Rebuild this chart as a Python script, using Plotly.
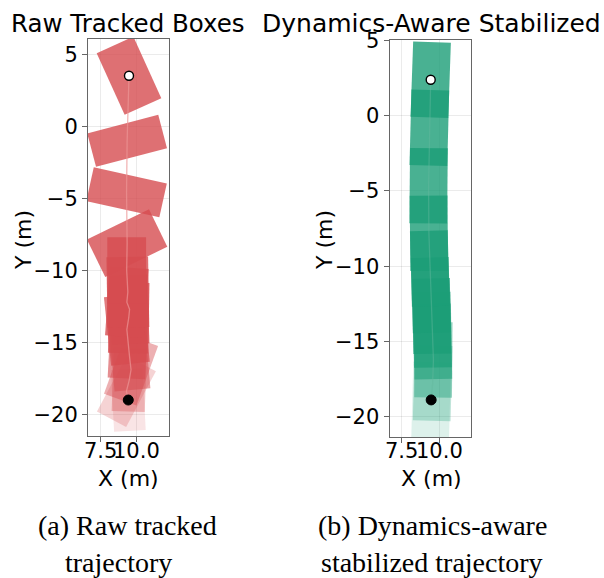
import numpy as np
import plotly.graph_objects as go

W_PX, H_PX = 604, 578

# ---- raw tracked boxes (first frame -> last frame) ----
raw_cx = [9.43, 9.30, 9.50, 9.62, 9.52, 9.42, 9.33, 9.46, 9.52, 9.33, 9.40, 9.32, 9.35, 9.31, 9.35, 9.48]
raw_cy = [-19.0, -18.4, -17.6, -16.9, -16.0, -15.1, -14.1, -13.3, -12.7, -12.2, -11.5, -10.0, -8.1, -4.57, -0.99, 3.53]
raw_heading = [93, 62, 88, 70, 95, 87, 96, 89, 92, 86, 91, 90, 26, -12.5, 14.7, 114.4]  # deg from +x
raw_length = [4.3, 4.4, 4.4, 4.4, 4.6, 4.8, 4.8, 4.9, 4.8, 4.8, 4.9, 4.6, 4.8, 5.2, 5.1, 4.7]
raw_width = [2.2, 2.3, 2.3, 2.4, 2.5, 2.6, 2.7, 2.8, 2.6, 2.7, 2.9, 2.7, 2.9, 2.4, 2.4, 2.8]

# ---- dynamics-aware stabilized boxes (first frame -> last frame) ----
stab_cx = [9.45, 9.55, 9.60, 9.55, 9.52, 9.48, 9.42, 9.36, 9.30, 9.28, 9.33, 9.42]
stab_cy = [-18.87, -17.76, -16.21, -14.99, -14.22, -13.31, -11.92, -10.15, -7.81, -4.66, -0.81, 2.37]
stab_heading = [88.5, 88.5, 89.5, 91.0, 91.0, 91.0, 91.5, 91.5, 90.5, 89.5, 88.5, 88.0]
stab_length = [5.0] * 12
stab_width = [2.5] * 12

x_ticks = [7.5, 10.0]
x_tick_text = ["7.5", "10.0"]
y_ticks = [-20, -15, -10, -5, 0, 5]
y_tick_text = ["\u221220", "\u221215", "\u221210", "\u22125", "0", "5"]

RED = (214, 76, 80)
GREEN = (27, 158, 119)
TICK_SIZE = 21


def px_x(p):
    return p / W_PX


def px_y(p):
    return 1 - p / H_PX


def box_corners(cx, cy, hdg, length, width):
    t = np.deg2rad(hdg)
    u = np.array([np.cos(t), np.sin(t)]) * length / 2
    v = np.array([-np.sin(t), np.cos(t)]) * width / 2
    c = np.array([cx, cy])
    pts = [c + u + v, c + u - v, c - u - v, c - u + v, c + u + v]
    return [p[0] for p in pts], [p[1] for p in pts]


def fade(n):
    # older frames are drawn more transparent
    i = np.arange(n)
    return 0.15 + 0.65 * np.minimum(1.0, i / (0.45 * (n - 1)))


fig = go.Figure()


def add_track(cx, cy, hdg, lens, wids, rgb, line_rgba, xa, ya):
    n = len(cx)
    alphas = fade(n)
    for i in range(n):
        xs, ys = box_corners(cx[i], cy[i], hdg[i], lens[i], wids[i])
        fig.add_trace(go.Scatter(
            x=xs, y=ys, mode="lines", fill="toself",
            fillcolor=f"rgba({rgb[0]},{rgb[1]},{rgb[2]},{alphas[i]:.3f})",
            line=dict(width=0), hoverinfo="skip", showlegend=False,
            xaxis=xa, yaxis=ya))
    fig.add_trace(go.Scatter(
        x=cx, y=cy, mode="lines", line=dict(color=line_rgba, width=1.3),
        showlegend=False, xaxis=xa, yaxis=ya))
    fig.add_trace(go.Scatter(
        x=[cx[0]], y=[cy[0]], mode="markers",
        marker=dict(size=10, color="black", line=dict(color="black", width=1)),
        showlegend=False, xaxis=xa, yaxis=ya))
    fig.add_trace(go.Scatter(
        x=[cx[-1]], y=[cy[-1]], mode="markers",
        marker=dict(size=9, color="white", line=dict(color="black", width=1.4)),
        showlegend=False, xaxis=xa, yaxis=ya))


add_track(raw_cx, raw_cy, raw_heading, raw_length, raw_width, RED,
          "rgba(236,150,150,0.7)", "x", "y")
add_track(stab_cx, stab_cy, stab_heading, stab_length, stab_width, GREEN,
          "rgba(100,185,158,0.45)", "x2", "y2")

axis_common = dict(
    showline=True, mirror=True, linecolor="#666", linewidth=1,
    ticks="outside", ticklen=5, tickcolor="#666", tickwidth=1,
    showgrid=True, gridcolor="rgba(0,0,0,0.08)", gridwidth=1,
    zeroline=False, automargin=False,
    tickfont=dict(family="DejaVu Sans", size=TICK_SIZE, color="black"),
)

fig.update_layout(
    xaxis=dict(domain=[px_x(88), px_x(169)], range=[6.63, 12.26], anchor="y",
               tickvals=x_ticks, showticklabels=False, **axis_common),
    yaxis=dict(domain=[px_y(436), px_y(39)], range=[-21.5, 6.08], anchor="x",
               tickvals=y_ticks, ticktext=y_tick_text, **axis_common),
    xaxis2=dict(domain=[px_x(389.5), px_x(471)], range=[6.69, 12.09], anchor="y2",
                tickvals=x_ticks, showticklabels=False, **axis_common),
    yaxis2=dict(domain=[px_y(437.3), px_y(40)], range=[-21.35, 5.01], anchor="x2",
                tickvals=y_ticks, ticktext=y_tick_text, **axis_common),
)

sans = "DejaVu Sans"
serif = "Liberation Serif"
annots = [
    dict(text="Raw Tracked Boxes", x=px_x(128), y=px_y(23), size=24.5, family=sans),
    dict(text="Dynamics-Aware Stabilized", x=px_x(431), y=px_y(23), size=25, family=sans),
    dict(text="X (m)", x=px_x(128), y=px_y(478), size=22, family=sans),
    dict(text="X (m)", x=px_x(431), y=px_y(478), size=22, family=sans),
    dict(text="Y (m)", x=px_x(24), y=px_y(240), size=22, family=sans, angle=-90),
    dict(text="Y (m)", x=px_x(325), y=px_y(240), size=22, family=sans, angle=-90),
    dict(text="(a) Raw tracked", x=px_x(127), y=px_y(525), size=28, family=serif),
    dict(text="trajectory", x=px_x(118), y=px_y(562), size=28, family=serif),
    dict(text="(b) Dynamics-aware", x=px_x(432), y=px_y(525), size=28, family=serif),
    dict(text="stabilized trajectory", x=px_x(432), y=px_y(562), size=28, family=serif),
]
layout_annots = [
    dict(text=a["text"], x=a["x"], y=a["y"], xref="paper", yref="paper",
         xanchor="center", yanchor="middle", showarrow=False,
         textangle=a.get("angle", 0),
         font=dict(family=a["family"], size=a["size"], color="black"))
    for a in annots
]
# x tick labels placed at the axis tick values
for xref in ("x", "x2"):
    for v, t in zip(x_ticks, x_tick_text):
        layout_annots.append(dict(
            text=t, x=v, y=px_y(451), xref=xref, yref="paper",
            xanchor="center", yanchor="middle", showarrow=False,
            font=dict(family=sans, size=TICK_SIZE, color="black")))
fig.update_layout(annotations=layout_annots)

fig.update_layout(
    width=W_PX, height=H_PX, margin=dict(l=0, r=0, t=0, b=0),
    paper_bgcolor="white", plot_bgcolor="white", showlegend=False,
)

fig.write_html("out.html")
